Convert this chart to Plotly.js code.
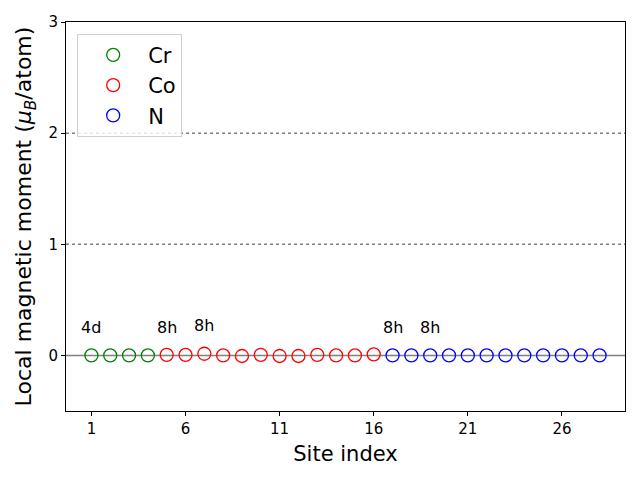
<!DOCTYPE html>
<html><head><meta charset="utf-8">
<script src="https://cdn.plot.ly/plotly-3.0.1.min.js"></script>
<style>body{margin:0}#c{width:640px;height:480px}</style>
</head><body><div id="c"></div>
<script>
const crSites = [1, 2, 3, 4];
const crMoments = [0.0, 0.0, 0.0, 0.0];
const coSites = [5, 6, 7, 8, 9, 10, 11, 12, 13, 14, 15, 16];
const coMoments = [0.005, 0.005, 0.015, 0.0, -0.005, 0.005, -0.005, -0.005, 0.005, 0.0, 0.0, 0.01];
const nSites = [17, 18, 19, 20, 21, 22, 23, 24, 25, 26, 27, 28];
const nMoments = [0, 0, 0, 0, 0, 0, 0, 0, 0, 0, 0, 0];
const labelSites = [1, 5, 7, 17, 19];
const labelTexts = ['4d', '8h', '8h', '8h', '8h'];
const xTicks = [1, 6, 11, 16, 21, 26];
const yTicks = [0, 1, 2, 3];

const allSites = crSites.concat(coSites, nSites);
const allMoments = crMoments.concat(coMoments, nMoments);

function mk(x, y, name, color) {
  return {x: x, y: y, name: name, type: 'scatter', mode: 'markers',
    marker: {symbol: 'circle-open', size: 13, color: color, line: {width: 1.3, color: color}}};
}
const traces = [
  mk(crSites, crMoments, 'Cr', 'green'),
  mk(coSites, coMoments, 'Co', 'red'),
  mk(nSites, nMoments, 'N', 'blue')
];
const annotations = labelSites.map((s, i) => {
  const idx = allSites.indexOf(s);
  return {x: s, y: allMoments[idx] + 0.25, text: labelTexts[i], showarrow: false,
    font: {size: 16, color: 'black'}, xanchor: 'center', yanchor: 'middle'};
});
const shapes = [
  {type: 'line', xref: 'paper', x0: 0, x1: 1, yref: 'y', y0: 0, y1: 0, line: {color: 'gray', width: 1.5}, layer: 'below'},
  {type: 'line', xref: 'paper', x0: 0, x1: 1, yref: 'y', y0: 1, y1: 1, line: {color: 'gray', width: 1.5, dash: 'dot'}, layer: 'below'},
  {type: 'line', xref: 'paper', x0: 0, x1: 1, yref: 'y', y0: 2, y1: 2, line: {color: 'gray', width: 1.5, dash: 'dot'}, layer: 'below'}
];
const layout = {
  width: 640, height: 480,
  margin: {l: 66, r: 15, t: 22, b: 69},
  paper_bgcolor: 'white', plot_bgcolor: 'white',
  font: {family: 'DejaVu Sans', color: 'black'},
  showlegend: true,
  legend: {x: 0.02, y: 0.97, xanchor: 'left', yanchor: 'top', bgcolor: 'rgba(255,255,255,0.8)',
    bordercolor: '#d0d0d0', borderwidth: 1, font: {size: 21}, itemwidth: 60},
  xaxis: {range: [-0.35, 29.35], tickvals: xTicks, ticks: 'outside', ticklen: 4, tickcolor: 'black',
    showline: true, linecolor: 'black', linewidth: 1, mirror: true, showgrid: false, zeroline: false,
    tickfont: {size: 15}, title: {text: 'Site index', font: {size: 21}, standoff: 9}},
  yaxis: {range: [-0.5, 3], tickvals: yTicks, ticks: 'outside', ticklen: 4, tickcolor: 'black',
    showline: true, linecolor: 'black', linewidth: 1, mirror: true, showgrid: false, zeroline: false,
    tickfont: {size: 15}, title: {text: 'Local magnetic moment (<i>μ</i><sub><i>B</i></sub>/atom)', font: {size: 22}, standoff: 10}},
  annotations: annotations,
  shapes: shapes
};
Plotly.newPlot('c', traces, layout, {displayModeBar: false, staticPlot: true});
</script></body></html>
